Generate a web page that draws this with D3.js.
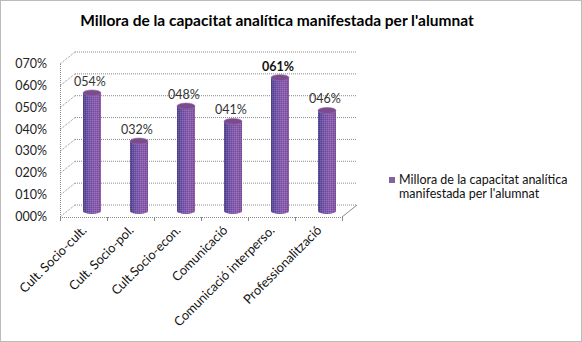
<!DOCTYPE html>
<html>
<head>
<meta charset="utf-8">
<script src="https://cdn.jsdelivr.net/npm/d3@7"></script>
<style>
  body { margin:0; background:#fff; }
  svg { display:block; font-family:"Lato","Open Sans",sans-serif; }
</style>
</head>
<body>
<svg id="chart" width="582" height="342"></svg>
<script>
// dades
var categories = ["Cult. Socio-cult.", "Cult. Socio-pol.", "Cult.Socio-econ.", "Comunicació", "Comunicació interperso.", "Professionalització"];
var values = [0.54, 0.32, 0.48, 0.41, 0.61, 0.46];
var yTicks = [0, 0.1, 0.2, 0.3, 0.4, 0.5, 0.6, 0.7];
var seriesName = ["Millora de la capacitat analítica", "manifestada per l'alumnat"];
var title = "Millora de la capacitat analítica manifestada per l'alumnat";

var svg = d3.select("#chart");
var W = 582, H = 342;
var depth = {x:15, y:-12}; // profunditat 3D
var grid = "#8a8a8a";

function pct(v){ return String(Math.round(v*100)).padStart(3,"0") + "%"; }

var x = d3.scaleBand().domain(categories).range([60, 342]);
var y = d3.scaleLinear().domain([0, 0.7]).range([217, 64]);

// marc exterior
svg.append("rect").attr("x",0.5).attr("y",0.5).attr("width",W-1).attr("height",H-1)
   .attr("fill","#fff").attr("stroke","#777").attr("stroke-dasharray","1,1");

// degradat i textura de les barres
var defs = svg.append("defs");
var grad = defs.append("linearGradient").attr("id","cyl").attr("x1","0").attr("x2","1").attr("y1","0").attr("y2","0");
grad.append("stop").attr("offset","0%").attr("stop-color","#4a428a");
grad.append("stop").attr("offset","30%").attr("stop-color","#7558aa");
grad.append("stop").attr("offset","70%").attr("stop-color","#8f62b0");
grad.append("stop").attr("offset","100%").attr("stop-color","#85579f");
var pat = defs.append("pattern").attr("id","dither").attr("patternUnits","userSpaceOnUse")
   .attr("width",2).attr("height",2);
pat.append("rect").attr("width",1).attr("height",1).attr("fill","#c080c0").attr("opacity",0.4);
pat.append("rect").attr("x",1).attr("y",1).attr("width",1).attr("height",1).attr("fill","#3a3a90").attr("opacity",0.4);

// titol
svg.append("text").attr("x",277).attr("y",26).attr("text-anchor","middle")
   .attr("font-weight","bold").attr("font-size",15.5).attr("fill","#000").text(title);

var g = svg.append("g");

// paret lateral esquerra + paret del fons
yTicks.forEach(function(t){
  var yf = y(t);
  g.append("line").attr("x1",60).attr("y1",yf).attr("x2",60+depth.x).attr("y2",yf+depth.y)
   .attr("stroke",grid).attr("stroke-dasharray","1,1");
  g.append("line").attr("x1",60+depth.x).attr("y1",yf+depth.y).attr("x2",342+depth.x).attr("y2",yf+depth.y)
   .attr("stroke",grid).attr("stroke-dasharray","1,1");
});
// eix vertical
g.append("line").attr("x1",60.5).attr("y1",y(0.7)).attr("x2",60.5).attr("y2",y(0))
   .attr("stroke",grid).attr("stroke-dasharray","1,1");
// terra
g.append("line").attr("x1",342).attr("y1",y(0)).attr("x2",342+depth.x).attr("y2",y(0)+depth.y)
   .attr("stroke",grid);
g.append("line").attr("x1",60).attr("y1",y(0)+0.5).attr("x2",342).attr("y2",y(0)+0.5)
   .attr("stroke",grid).attr("stroke-dasharray","1,1");
// marques de l'eix x
x.domain().concat(["_end"]).forEach(function(c,i){
  var xx = 60 + i*x.bandwidth();
  g.append("line").attr("x1",xx+0.5).attr("x2",xx+0.5).attr("y1",y(0)).attr("y2",y(0)+4).attr("stroke",grid);
});

// etiquetes eix y
g.selectAll(".ytick").data(yTicks).enter().append("text")
  .attr("x",47).attr("y",function(d){return y(d)+4;})
  .attr("text-anchor","end").attr("font-size",12.5).attr("fill","#222")
  .text(pct);

// cilindres
var bw = 18, ry = 3;
var bars = g.selectAll(".bar").data(values).enter().append("g").attr("class","bar");
function cx(i){ return x(categories[i]) + x.bandwidth()/2 + depth.x/2 + 1; }
var base = y(0) + depth.y/2;
function barTop(v){ return base - (y(0) - y(v)); }
function cylPath(d,i){
  var l = cx(i)-bw/2, r = cx(i)+bw/2, t = barTop(d);
  return "M"+l+","+t+" L"+l+","+base+" A"+(bw/2)+","+ry+" 0 0 0 "+r+","+base+" L"+r+","+t+" Z";
}
bars.append("path").attr("d",cylPath).attr("fill","url(#cyl)");
bars.append("path").attr("d",cylPath).attr("fill","url(#dither)");
bars.append("ellipse")
  .attr("cx",function(d,i){return cx(i);}).attr("cy",function(d){return barTop(d);})
  .attr("rx",bw/2).attr("ry",ry).attr("fill","#7a4c8e").attr("stroke","#9a6aa8").attr("stroke-width",0.6);

// etiquetes de valor
var maxV = d3.max(values);
bars.append("text")
  .attr("x",function(d,i){return cx(i)-2;})
  .attr("y",function(d){return barTop(d)-7;})
  .attr("text-anchor","middle").attr("font-size",12.5)
  .attr("font-weight",function(d){return d===maxV ? "bold" : "normal";})
  .attr("fill",function(d){return d===maxV ? "#111" : "#333";})
  .text(pct);

// etiquetes de categoria
g.selectAll(".xlab").data(categories).enter().append("text")
  .attr("transform",function(d){
    var px = x(d) + x.bandwidth()/2 + 4, py = y(0) + 14;
    return "translate("+px+","+py+") rotate(-45)";
  })
  .attr("text-anchor","end").attr("font-size",12.8).attr("fill","#111")
  .text(function(d){return d;});

// llegenda
var lg = svg.append("g").attr("transform","translate(389,177)");
lg.append("rect").attr("width",6).attr("height",6).attr("fill","#8064a2");
lg.selectAll("text").data(seriesName).enter().append("text")
  .attr("x",10).attr("y",function(d,i){return 7 + i*14;})
  .attr("font-size",12.5).attr("fill","#111").text(function(d){return d;});
</script>
</body>
</html>
